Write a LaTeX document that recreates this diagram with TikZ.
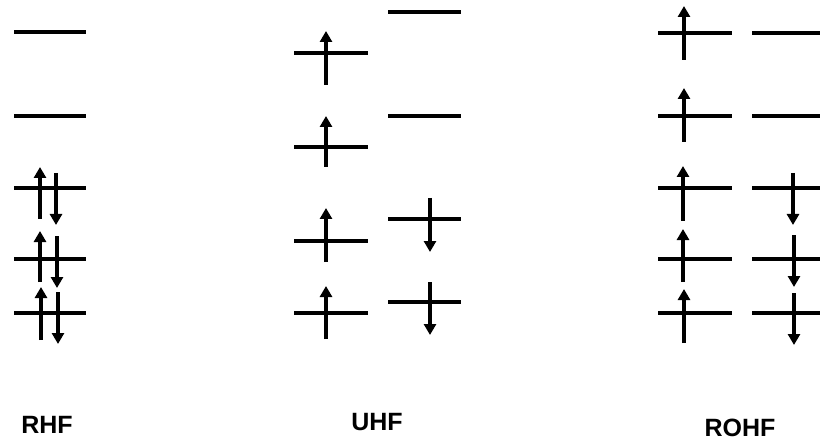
\documentclass[tikz,border=0pt]{standalone}
\usepackage{fontspec}
\setmainfont{Liberation Sans}
\usetikzlibrary{arrows.meta}
\tikzset{
  lvl/.style={line width=3.6pt, line cap=butt},
  spin/.style={line width=3.6pt, -{Triangle[length=11pt,width=12pt]}},
  lbl/.style={font=\fontsize{25}{30}\selectfont\bfseries, inner sep=0pt}
}
\newcommand{\mylev}[3]{\draw[lvl] (#1,#3) -- (#2,#3);}
\newcommand{\myspin}[3]{\coordinate (s1) at (#1,#2); \coordinate (s2) at (#1,#3); \draw[spin] (s1) -- (s2);}
\begin{document}
\begin{tikzpicture}[x=1pt,y=-1pt]
\useasboundingbox (0,0) rectangle (820,441);
% RHF
\mylev{14}{86}{32}
\mylev{14}{86}{116}
\mylev{14}{86}{188}
\mylev{14}{86}{259}
\mylev{14}{86}{313}
\myspin{40}{219}{167}
\myspin{56}{173}{225}
\myspin{40}{282}{231}
\myspin{57}{236}{288}
\myspin{41}{340}{287}
\myspin{58}{292}{344}
% UHF alpha
\mylev{294}{368}{53}
\mylev{294}{368}{147}
\mylev{294}{368}{241}
\mylev{294}{368}{313}
\myspin{326}{85}{31}
\myspin{326}{167}{116}
\myspin{326}{262}{208}
\myspin{326}{339}{286}
% UHF beta
\mylev{388}{461}{12}
\mylev{388}{461}{116}
\mylev{388}{461}{219}
\mylev{388}{461}{302}
\myspin{430}{198}{252}
\myspin{430}{282}{335}
% ROHF alpha
\mylev{658}{732}{33}
\mylev{658}{732}{116}
\mylev{658}{732}{188}
\mylev{658}{732}{259}
\mylev{658}{732}{313}
\myspin{684}{60}{6}
\myspin{684}{142}{88}
\myspin{683}{221}{166}
\myspin{683}{282}{229}
\myspin{684}{343}{289}
% ROHF beta
\mylev{752}{830}{33}
\mylev{752}{830}{116}
\mylev{752}{830}{188}
\mylev{752}{830}{259}
\mylev{752}{830}{313}
\myspin{793}{173}{225}
\myspin{794}{235}{287}
\myspin{794}{293}{345}
% labels
\node[lbl] (rhf) at (47,425) {RHF};
\node[lbl] (uhf) at (377,422) {UHF};
\node[lbl] (rohf) at (740,428) {ROHF};
\end{tikzpicture}
\end{document}
